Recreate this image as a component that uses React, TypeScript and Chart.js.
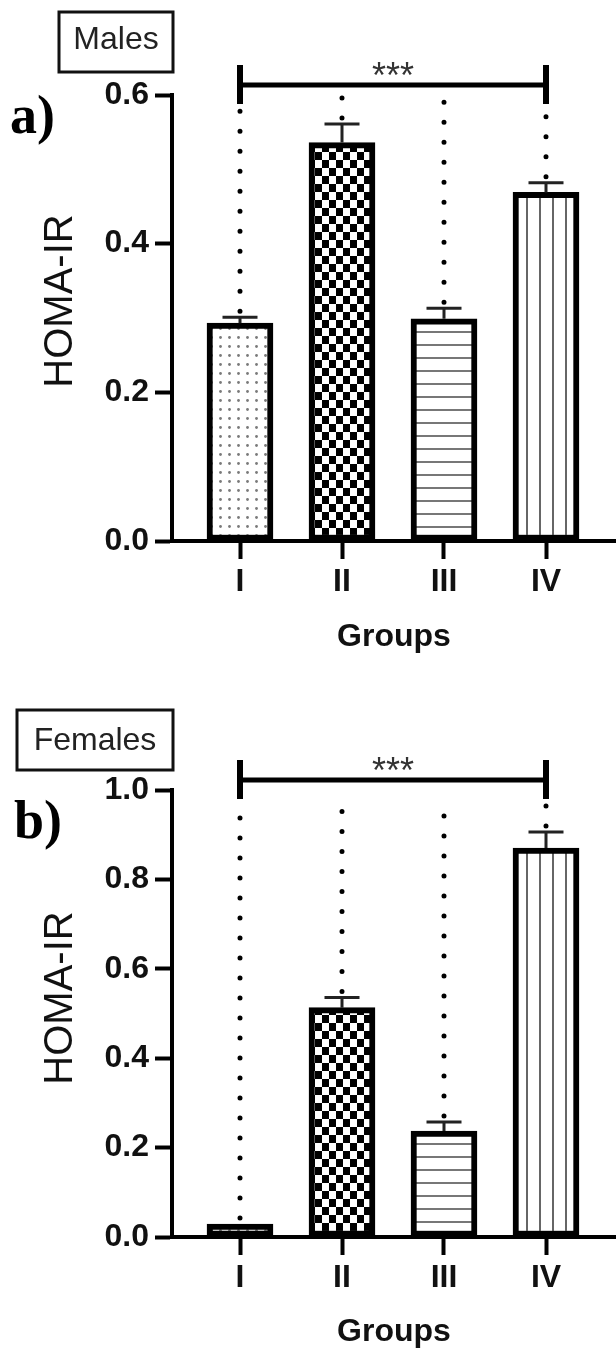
import React, { useEffect, useRef } from "react";
import { Chart, registerables } from "chart.js";

Chart.register(...registerables);

// ---- data ----
const groups = ["I", "II", "III", "IV"];
const groupPositions = [1, 2, 3, 4];

const malesMean = [0.293, 0.536, 0.299, 0.469];
const malesSem = [0.008, 0.025, 0.014, 0.013];
const malesTicks = [0, 0.2, 0.4, 0.6];

const femalesMean = [0.029, 0.513, 0.237, 0.87];
const femalesSem = [0.0, 0.023, 0.02, 0.036];
const femalesTicks = [0, 0.2, 0.4, 0.6, 0.8, 1.0];

const significance = "***";
const yTitle = "HOMA-IR";
const xTitle = "Groups";

const SANS = "'Liberation Sans', Arial, sans-serif";
const SERIF = "'Liberation Serif', 'Times New Roman', serif";

function makePattern(kind: string): CanvasPattern | string {
  const c = document.createElement("canvas");
  let w = 9, h = 9;
  if (kind === "checker") { w = 14; h = 16; }
  if (kind === "hlines") { w = 4; h = 13; }
  if (kind === "vlines") { w = 13; h = 4; }
  c.width = w; c.height = h;
  const g = c.getContext("2d")!;
  g.fillStyle = "#fff";
  g.fillRect(0, 0, w, h);
  if (kind === "dots") {
    g.fillStyle = "#7a7a7a";
    g.beginPath();
    g.arc(4.5, 4.5, 1.4, 0, Math.PI * 2);
    g.fill();
  } else if (kind === "checker") {
    g.fillStyle = "#000";
    g.fillRect(0, 0, 7, 8);
    g.fillRect(7, 8, 7, 8);
  } else if (kind === "hlines") {
    g.fillStyle = "#777";
    g.fillRect(0, 6, w, 2);
  } else if (kind === "vlines") {
    g.fillStyle = "#666";
    g.fillRect(6, 0, 2, h);
  }
  const p = g.createPattern(c, "repeat");
  return p || "#fff";
}

const decorPlugin = {
  id: "decor",
  afterDraw(chart: any, _args: any, opts: any) {
    const { ctx, chartArea } = chart;
    const xs = chart.scales.x;
    const ys = chart.scales.y;
    const { means, sems, dotTop } = opts;
    ctx.save();

    // dotted vertical lines
    ctx.strokeStyle = "#000";
    ctx.lineWidth = 5;
    ctx.lineCap = "round";
    ctx.setLineDash([0, 20]);
    for (let i = 0; i < means.length; i++) {
      const x = xs.getPixelForValue(groupPositions[i]);
      const yT = ys.getPixelForValue(dotTop);
      const yB = ys.getPixelForValue(means[i] + sems[i]) - 6;
      if (yB > yT) {
        ctx.beginPath();
        ctx.moveTo(x, yB);
        ctx.lineTo(x, yT);
        ctx.stroke();
      }
    }
    ctx.setLineDash([]);
    ctx.lineCap = "butt";

    // error bars
    ctx.strokeStyle = "#222";
    ctx.lineWidth = 3;
    for (let i = 0; i < means.length; i++) {
      if (sems[i] <= 0) continue;
      const x = xs.getPixelForValue(groupPositions[i]);
      const y0 = ys.getPixelForValue(means[i]);
      const y1 = ys.getPixelForValue(means[i] + sems[i]);
      ctx.beginPath();
      ctx.moveTo(x, y0);
      ctx.lineTo(x, y1);
      ctx.moveTo(x - 17.5, y1);
      ctx.lineTo(x + 17.5, y1);
      ctx.stroke();
    }

    // significance bracket
    const by = chartArea.top - 10;
    const x1 = xs.getPixelForValue(groupPositions[0]);
    const x2 = xs.getPixelForValue(groupPositions[groupPositions.length - 1]);
    ctx.strokeStyle = "#000";
    ctx.lineWidth = 5;
    ctx.beginPath();
    ctx.moveTo(x1, by);
    ctx.lineTo(x2, by);
    ctx.stroke();
    ctx.lineWidth = 6;
    ctx.beginPath();
    ctx.moveTo(x1, by - 20);
    ctx.lineTo(x1, by + 19);
    ctx.moveTo(x2, by - 20);
    ctx.lineTo(x2, by + 19);
    ctx.stroke();
    ctx.fillStyle = "#333";
    ctx.font = `36px ${SANS}`;
    ctx.textAlign = "center";
    ctx.textBaseline = "alphabetic";
    ctx.fillText(significance, (x1 + x2) / 2, by + 3);

    // boxed sex label
    const b = opts.box;
    ctx.strokeStyle = "#111";
    ctx.lineWidth = 3;
    ctx.strokeRect(b.x, b.y, b.w, b.h);
    ctx.fillStyle = "#222";
    ctx.font = `32px ${SANS}`;
    ctx.textAlign = "center";
    ctx.fillText(opts.boxText, b.x + b.w / 2, b.textY);

    // panel letter
    ctx.fillStyle = "#000";
    ctx.font = `bold 54px ${SERIF}`;
    ctx.textAlign = "left";
    ctx.fillText(opts.panel, opts.panelX, opts.panelY);

    // y axis title
    ctx.save();
    ctx.translate(opts.titleX, opts.titleY);
    ctx.rotate(-Math.PI / 2);
    ctx.fillStyle = "#111";
    ctx.font = `40px ${SANS}`;
    ctx.textAlign = "center";
    ctx.textBaseline = "middle";
    ctx.fillText(yTitle, 0, 0);
    ctx.restore();

    ctx.restore();
  },
};

type PanelProps = {
  top: number;
  means: number[];
  sems: number[];
  ticks: number[];
  xAxisHeight: number;
  decor: any;
};

function Panel({ top, means, sems, ticks, xAxisHeight, decor }: PanelProps) {
  const ref = useRef<HTMLCanvasElement>(null);
  useEffect(() => {
    const canvas = ref.current!;
    const patterns = [
      makePattern("dots"),
      makePattern("checker"),
      makePattern("hlines"),
      makePattern("vlines"),
    ];
    const tickFont = { family: SANS, size: 32, weight: "bold" as const };
    const chart = new Chart(canvas, {
      type: "bar",
      data: {
        datasets: [
          {
            data: means.map((m, i) => ({ x: groupPositions[i], y: m })),
            backgroundColor: patterns as any,
            borderColor: "#000",
            borderWidth: 6,
            borderSkipped: false,
            barThickness: 66,
          },
        ],
      },
      options: {
        animation: false,
        responsive: false,
        devicePixelRatio: 1,
        layout: { padding: { top: 95, right: 0, bottom: 0, left: 0 } },
        plugins: {
          legend: { display: false },
          tooltip: { enabled: false },
          decor: { means, sems, ...decor },
        } as any,
        scales: {
          x: {
            type: "linear",
            offset: false,
            min: 1 - 68 / 102,
            max: 4 + 70 / 102,
            afterBuildTicks: (s: any) => {
              s.ticks = groupPositions.map((v) => ({ value: v }));
            },
            afterFit: (s: any) => {
              s.height = xAxisHeight;
            },
            ticks: {
              callback: (_v: any, idx: number) => groups[idx],
              font: tickFont,
              color: "#111",
              padding: 4,
              maxRotation: 0,
              autoSkip: false,
            },
            grid: {
              display: true,
              offset: false,
              drawOnChartArea: false,
              drawTicks: true,
              tickLength: 18,
              tickWidth: 4,
              tickColor: "#000",
            },
            border: { display: true, color: "#000", width: 4 },
            title: {
              display: true,
              text: xTitle,
              font: { family: SANS, size: 32, weight: "bold" },
              color: "#111",
              padding: { top: 0, bottom: 0 },
            },
          },
          y: {
            type: "linear",
            min: 0,
            max: ticks[ticks.length - 1],
            afterBuildTicks: (s: any) => {
              s.ticks = ticks.map((v) => ({ value: v }));
            },
            afterFit: (s: any) => {
              s.width = 172;
            },
            ticks: {
              callback: (v: any) => Number(v).toFixed(1),
              font: tickFont,
              color: "#111",
              padding: 6,
            },
            grid: {
              display: true,
              drawOnChartArea: false,
              drawTicks: true,
              tickLength: 17,
              tickWidth: 4,
              tickColor: "#000",
            },
            border: { display: true, color: "#000", width: 4 },
          },
        },
      } as any,
      plugins: [decorPlugin],
    });
    return () => chart.destroy();
  }, []);
  return (
    <canvas
      ref={ref}
      width={616}
      height={656}
      style={{ position: "absolute", left: 0, top, width: 616, height: 656 }}
    />
  );
}

export default function App() {
  return (
    <div
      style={{
        position: "absolute",
        left: 0,
        top: 0,
        width: 616,
        height: 1351,
        background: "#fff",
        overflow: "hidden",
      }}
    >
      <Panel
        top={0}
        means={malesMean}
        sems={malesSem}
        ticks={malesTicks}
        xAxisHeight={115}
        decor={{
          dotTop: 0.6,
          box: { x: 59, y: 12, w: 114, h: 60, textY: 49 },
          boxText: "Males",
          panel: "a)",
          panelX: 10,
          panelY: 133,
          titleX: 61,
          titleY: 301,
        }}
      />
      <Panel
        top={695}
        means={femalesMean}
        sems={femalesSem}
        ticks={femalesTicks}
        xAxisHeight={114}
        decor={{
          dotTop: 0.98,
          box: { x: 17, y: 15, w: 156, h: 60, textY: 55 },
          boxText: "Females",
          panel: "b)",
          panelX: 14,
          panelY: 143,
          titleX: 61,
          titleY: 303,
        }}
      />
    </div>
  );
}
